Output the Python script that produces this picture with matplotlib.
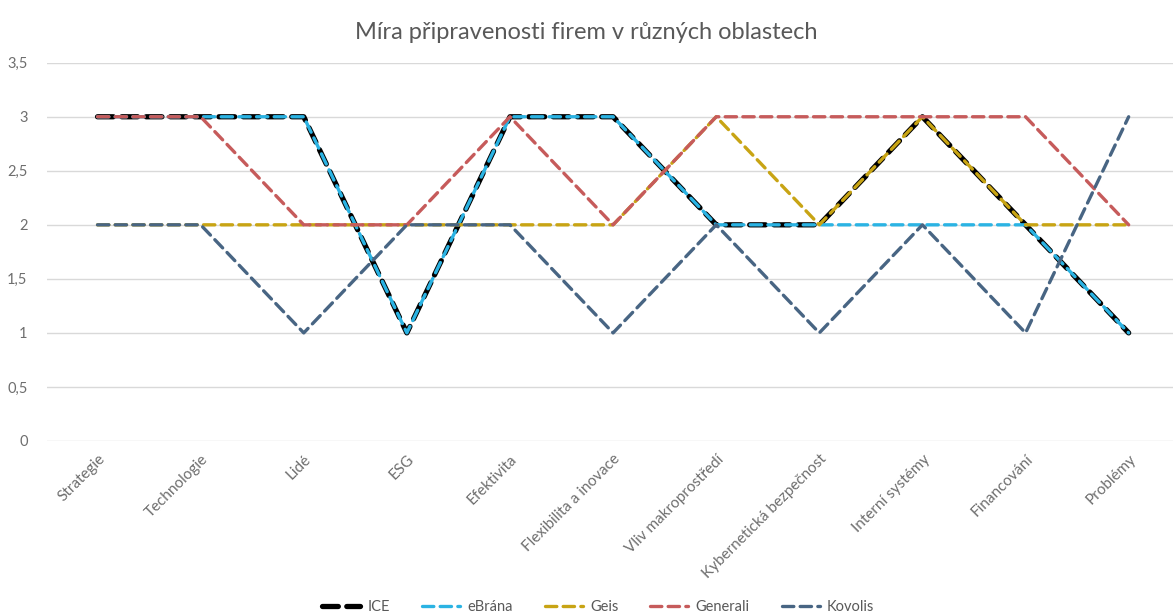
import matplotlib
matplotlib.use("Agg")
import matplotlib.pyplot as plt

categories = ["Strategie", "Technologie", "Lidé", "ESG", "Efektivita",
              "Flexibilita a inovace", "Vliv makroprostředí",
              "Kybernetická bezpečnost", "Interní systémy", "Financování", "Problémy"]
ice      = [3, 3, 3, 1, 3, 3, 2, 2, 3, 2, 1]
ebrana   = [3, 3, 3, 1, 3, 3, 2, 2, 2, 2, 1]
geis     = [2, 2, 2, 2, 2, 2, 3, 2, 3, 2, 2]
generali = [3, 3, 2, 2, 3, 2, 3, 3, 3, 3, 2]
kovolis  = [2, 2, 1, 2, 2, 1, 2, 1, 2, 1, 3]
series_names = ["ICE", "eBrána", "Geis", "Generali", "Kovolis"]
y_ticks = [0, 0.5, 1, 1.5, 2, 2.5, 3, 3.5]

plt.rcParams['font.family'] = ['Lato', 'DejaVu Sans']

fig = plt.figure(figsize=(11.73, 6.15), dpi=100)
ax = fig.add_axes([47 / 1173, 0.283, 1 - 47 / 1173, 0.615])

x = list(range(len(categories)))
styles = [
    (ice, "#000000", 3.8, (3.0, 1.6)),
    (ebrana, "#2BB3E3", 2.4, (3.4, 1.9)),
    (geis, "#C8A414", 2.4, (3.4, 1.9)),
    (generali, "#C65B5B", 2.4, (3.4, 1.9)),
    (kovolis, "#486583", 2.4, (3.4, 1.9)),
]
for (vals, col, lw, dash), name in zip(styles, series_names):
    ax.plot(x, vals, color=col, lw=lw, dashes=dash, label=name,
            dash_capstyle='round', solid_joinstyle='miter')

ax.set_xlim(-0.49, 10.43)
ax.set_ylim(0, 3.5)
ax.set_yticks(y_ticks)
ax.set_yticklabels([f"{v:g}".replace(".", ",") for v in y_ticks])
ax.set_xticks(x)
ax.set_xticklabels(categories, rotation=45, ha='right', rotation_mode='anchor')
ax.grid(axis='y', color='#D9D9D9', lw=1)
ax.set_axisbelow(True)
for s in ax.spines.values():
    s.set_visible(False)
ax.tick_params(length=0, colors='#6E6E6E', pad=8)
ax.tick_params(axis='x', labelsize=11)
ax.tick_params(axis='y', labelsize=10.5, pad=14)

fig.suptitle("Míra připravenosti firem v různých oblastech", y=0.965,
             fontsize=17, color='#595959')

fig.legend(loc='lower center', ncol=5, frameon=False, fontsize=10.5,
           bbox_to_anchor=(0.51, -0.02), handlelength=2.6, handletextpad=0.5,
           columnspacing=2.2, labelcolor='#595959')

fig.savefig("out.png", dpi=100, facecolor='white')
